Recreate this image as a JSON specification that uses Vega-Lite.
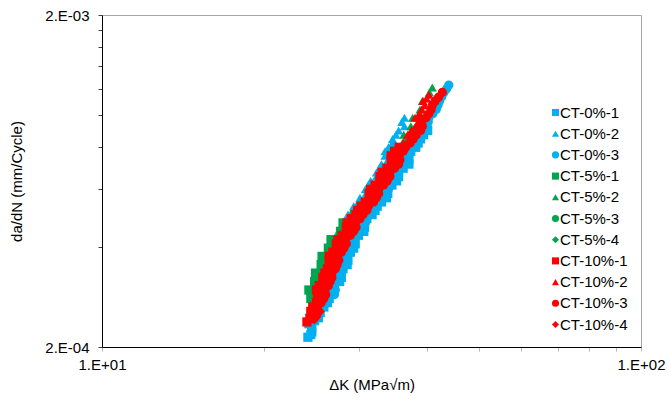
{
"$schema": "https://vega.github.io/schema/vega-lite/v6.json",
"width": 539, "height": 332,
"autosize": {"type": "none"},
"padding": {"left": 102, "top": 15, "right": 27, "bottom": 52},
"background": "white",
"config": {"view": {"stroke": "#a6a6a6", "strokeWidth": 1}, "font": "Liberation Sans"},
"datasets": {"d": [
{"s":"CT-0%-1","k":24.1,"r":2.14e-4},{"s":"CT-0%-1","k":24.5,"r":2.22e-4},{"s":"CT-0%-1","k":24.2,"r":2.35e-4},{"s":"CT-0%-1","k":25.2,"r":2.45e-4},{"s":"CT-0%-1","k":25.8,"r":2.64e-4},{"s":"CT-0%-1","k":26.4,"r":2.80e-4},{"s":"CT-0%-1","k":26.6,"r":2.97e-4},{"s":"CT-0%-1","k":27.6,"r":3.15e-4},{"s":"CT-0%-1","k":27.7,"r":3.34e-4},{"s":"CT-0%-1","k":28.5,"r":3.54e-4},{"s":"CT-0%-1","k":28.3,"r":3.75e-4},{"s":"CT-0%-1","k":29.3,"r":3.97e-4},{"s":"CT-0%-1","k":29.3,"r":4.21e-4},{"s":"CT-0%-1","k":30.6,"r":4.46e-4},{"s":"CT-0%-1","k":30.5,"r":4.73e-4},{"s":"CT-0%-1","k":31.7,"r":5.01e-4},{"s":"CT-0%-1","k":32.4,"r":5.31e-4},{"s":"CT-0%-1","k":33.7,"r":5.63e-4},{"s":"CT-0%-1","k":33.8,"r":5.97e-4},{"s":"CT-0%-1","k":35.2,"r":6.33e-4},{"s":"CT-0%-1","k":35.5,"r":6.71e-4},{"s":"CT-0%-1","k":37.1,"r":7.11e-4},{"s":"CT-0%-1","k":36.8,"r":7.54e-4},{"s":"CT-0%-1","k":38.2,"r":7.99e-4},{"s":"CT-0%-1","k":39.0,"r":8.47e-4},{"s":"CT-0%-1","k":40.2,"r":8.98e-4},
{"s":"CT-0%-1","k":24.4,"r":2.18e-4},{"s":"CT-0%-1","k":24.5,"r":2.28e-4},{"s":"CT-0%-1","k":24.8,"r":2.40e-4},{"s":"CT-0%-1","k":25.4,"r":2.54e-4},{"s":"CT-0%-1","k":26.2,"r":2.72e-4},{"s":"CT-0%-1","k":26.6,"r":2.88e-4},{"s":"CT-0%-1","k":27.0,"r":3.06e-4},{"s":"CT-0%-1","k":27.8,"r":3.24e-4},{"s":"CT-0%-1","k":28.0,"r":3.44e-4},{"s":"CT-0%-1","k":28.6,"r":3.65e-4},{"s":"CT-0%-1","k":28.9,"r":3.86e-4},{"s":"CT-0%-1","k":29.5,"r":4.09e-4},{"s":"CT-0%-1","k":29.9,"r":4.34e-4},{"s":"CT-0%-1","k":30.7,"r":4.59e-4},{"s":"CT-0%-1","k":31.0,"r":4.87e-4},{"s":"CT-0%-1","k":32.1,"r":5.16e-4},{"s":"CT-0%-1","k":33.0,"r":5.47e-4},{"s":"CT-0%-1","k":33.9,"r":5.80e-4},{"s":"CT-0%-1","k":34.5,"r":6.15e-4},{"s":"CT-0%-1","k":35.5,"r":6.52e-4},{"s":"CT-0%-1","k":36.2,"r":6.91e-4},{"s":"CT-0%-1","k":37.1,"r":7.32e-4},{"s":"CT-0%-1","k":37.4,"r":7.77e-4},{"s":"CT-0%-1","k":38.6,"r":8.23e-4},{"s":"CT-0%-1","k":39.5,"r":8.72e-4},
{"s":"CT-0%-2","k":24.2,"r":2.42e-4},{"s":"CT-0%-2","k":24.7,"r":2.56e-4},{"s":"CT-0%-2","k":24.8,"r":2.72e-4},{"s":"CT-0%-2","k":25.4,"r":2.88e-4},{"s":"CT-0%-2","k":24.9,"r":3.06e-4},{"s":"CT-0%-2","k":25.6,"r":3.24e-4},{"s":"CT-0%-2","k":25.5,"r":3.44e-4},{"s":"CT-0%-2","k":26.2,"r":3.65e-4},{"s":"CT-0%-2","k":26.4,"r":3.86e-4},{"s":"CT-0%-2","k":27.2,"r":4.09e-4},{"s":"CT-0%-2","k":27.2,"r":4.34e-4},{"s":"CT-0%-2","k":28.1,"r":4.59e-4},{"s":"CT-0%-2","k":28.4,"r":4.87e-4},{"s":"CT-0%-2","k":29.2,"r":5.16e-4},{"s":"CT-0%-2","k":29.9,"r":5.47e-4},{"s":"CT-0%-2","k":30.9,"r":5.80e-4},{"s":"CT-0%-2","k":31.2,"r":6.15e-4},{"s":"CT-0%-2","k":32.3,"r":6.52e-4},{"s":"CT-0%-2","k":32.7,"r":6.91e-4},{"s":"CT-0%-2","k":33.9,"r":7.32e-4},{"s":"CT-0%-2","k":33.5,"r":7.77e-4},{"s":"CT-0%-2","k":34.6,"r":8.23e-4},{"s":"CT-0%-2","k":35.1,"r":8.72e-4},{"s":"CT-0%-2","k":36.4,"r":9.25e-4},{"s":"CT-0%-2","k":36.4,"r":9.81e-4},
{"s":"CT-0%-2","k":24.4,"r":2.49e-4},{"s":"CT-0%-2","k":24.6,"r":2.64e-4},{"s":"CT-0%-2","k":25.0,"r":2.80e-4},{"s":"CT-0%-2","k":25.1,"r":2.97e-4},{"s":"CT-0%-2","k":25.2,"r":3.15e-4},{"s":"CT-0%-2","k":25.4,"r":3.34e-4},{"s":"CT-0%-2","k":25.8,"r":3.54e-4},{"s":"CT-0%-2","k":26.1,"r":3.75e-4},{"s":"CT-0%-2","k":26.7,"r":3.97e-4},{"s":"CT-0%-2","k":27.0,"r":4.21e-4},{"s":"CT-0%-2","k":27.5,"r":4.46e-4},{"s":"CT-0%-2","k":28.0,"r":4.73e-4},{"s":"CT-0%-2","k":28.6,"r":5.01e-4},{"s":"CT-0%-2","k":29.3,"r":5.31e-4},{"s":"CT-0%-2","k":30.1,"r":5.63e-4},{"s":"CT-0%-2","k":30.8,"r":5.97e-4},{"s":"CT-0%-2","k":31.5,"r":6.33e-4},{"s":"CT-0%-2","k":32.3,"r":6.71e-4},{"s":"CT-0%-2","k":33.0,"r":7.11e-4},{"s":"CT-0%-2","k":33.5,"r":7.54e-4},{"s":"CT-0%-2","k":34.0,"r":7.99e-4},{"s":"CT-0%-2","k":34.6,"r":8.47e-4},{"s":"CT-0%-2","k":35.5,"r":8.98e-4},{"s":"CT-0%-2","k":36.0,"r":9.52e-4},
{"s":"CT-0%-3","k":27.0,"r":2.88e-4},{"s":"CT-0%-3","k":26.8,"r":3.06e-4},{"s":"CT-0%-3","k":27.4,"r":3.24e-4},{"s":"CT-0%-3","k":27.7,"r":3.44e-4},{"s":"CT-0%-3","k":28.3,"r":3.65e-4},{"s":"CT-0%-3","k":28.4,"r":3.86e-4},{"s":"CT-0%-3","k":29.1,"r":4.09e-4},{"s":"CT-0%-3","k":29.4,"r":4.34e-4},{"s":"CT-0%-3","k":30.5,"r":4.59e-4},{"s":"CT-0%-3","k":30.7,"r":4.87e-4},{"s":"CT-0%-3","k":31.8,"r":5.16e-4},{"s":"CT-0%-3","k":32.6,"r":5.47e-4},{"s":"CT-0%-3","k":33.6,"r":5.80e-4},{"s":"CT-0%-3","k":34.0,"r":6.15e-4},{"s":"CT-0%-3","k":35.1,"r":6.52e-4},{"s":"CT-0%-3","k":35.6,"r":6.91e-4},{"s":"CT-0%-3","k":36.9,"r":7.32e-4},{"s":"CT-0%-3","k":37.0,"r":7.77e-4},{"s":"CT-0%-3","k":38.2,"r":8.23e-4},{"s":"CT-0%-3","k":39.0,"r":8.72e-4},{"s":"CT-0%-3","k":40.1,"r":9.25e-4},{"s":"CT-0%-3","k":40.4,"r":9.81e-4},{"s":"CT-0%-3","k":41.7,"r":1.039e-3},{"s":"CT-0%-3","k":42.3,"r":1.102e-3},{"s":"CT-0%-3","k":43.1,"r":1.168e-3},{"s":"CT-0%-3","k":44.0,"r":1.23e-3},
{"s":"CT-0%-3","k":27.1,"r":2.97e-4},{"s":"CT-0%-3","k":27.2,"r":3.15e-4},{"s":"CT-0%-3","k":27.7,"r":3.34e-4},{"s":"CT-0%-3","k":28.1,"r":3.54e-4},{"s":"CT-0%-3","k":28.5,"r":3.75e-4},{"s":"CT-0%-3","k":28.9,"r":3.97e-4},{"s":"CT-0%-3","k":29.4,"r":4.21e-4},{"s":"CT-0%-3","k":30.0,"r":4.46e-4},{"s":"CT-0%-3","k":30.8,"r":4.73e-4},{"s":"CT-0%-3","k":31.4,"r":5.01e-4},{"s":"CT-0%-3","k":32.3,"r":5.31e-4},{"s":"CT-0%-3","k":33.2,"r":5.63e-4},{"s":"CT-0%-3","k":34.0,"r":5.97e-4},{"s":"CT-0%-3","k":34.7,"r":6.33e-4},{"s":"CT-0%-3","k":35.5,"r":6.71e-4},{"s":"CT-0%-3","k":36.3,"r":7.11e-4},{"s":"CT-0%-3","k":37.1,"r":7.54e-4},{"s":"CT-0%-3","k":37.7,"r":7.99e-4},{"s":"CT-0%-3","k":38.7,"r":8.47e-4},{"s":"CT-0%-3","k":39.6,"r":8.98e-4},{"s":"CT-0%-3","k":40.3,"r":9.52e-4},{"s":"CT-0%-3","k":41.1,"r":1.009e-3},{"s":"CT-0%-3","k":42.0,"r":1.07e-3},{"s":"CT-0%-3","k":42.7,"r":1.134e-3},{"s":"CT-0%-3","k":43.6,"r":1.20e-3},
{"s":"CT-5%-1","k":24.4,"r":2.80e-4},{"s":"CT-5%-1","k":24.2,"r":2.97e-4},{"s":"CT-5%-1","k":24.8,"r":3.15e-4},{"s":"CT-5%-1","k":24.9,"r":3.34e-4},{"s":"CT-5%-1","k":25.5,"r":3.54e-4},{"s":"CT-5%-1","k":25.6,"r":3.75e-4},{"s":"CT-5%-1","k":26.3,"r":3.97e-4},{"s":"CT-5%-1","k":26.6,"r":4.21e-4},{"s":"CT-5%-1","k":27.7,"r":4.46e-4},{"s":"CT-5%-1","k":28.0,"r":4.73e-4},{"s":"CT-5%-1","k":29.4,"r":5.01e-4},{"s":"CT-5%-1","k":30.2,"r":5.31e-4},
{"s":"CT-5%-2","k":26.8,"r":3.86e-4},{"s":"CT-5%-2","k":27.4,"r":4.09e-4},{"s":"CT-5%-2","k":27.5,"r":4.34e-4},{"s":"CT-5%-2","k":28.4,"r":4.59e-4},{"s":"CT-5%-2","k":28.9,"r":4.87e-4},{"s":"CT-5%-2","k":30.0,"r":5.16e-4},{"s":"CT-5%-2","k":30.3,"r":5.47e-4},{"s":"CT-5%-2","k":31.4,"r":5.80e-4},{"s":"CT-5%-2","k":32.1,"r":6.15e-4},{"s":"CT-5%-2","k":33.1,"r":6.52e-4},{"s":"CT-5%-2","k":33.3,"r":6.91e-4},{"s":"CT-5%-2","k":34.4,"r":7.32e-4},{"s":"CT-5%-2","k":34.8,"r":7.77e-4},{"s":"CT-5%-2","k":36.1,"r":8.23e-4},{"s":"CT-5%-2","k":36.3,"r":8.72e-4},{"s":"CT-5%-2","k":37.4,"r":9.25e-4},{"s":"CT-5%-2","k":37.7,"r":9.81e-4},{"s":"CT-5%-2","k":38.9,"r":1.039e-3},{"s":"CT-5%-2","k":39.3,"r":1.102e-3},{"s":"CT-5%-2","k":40.5,"r":1.168e-3},{"s":"CT-5%-2","k":41.0,"r":1.21e-3},
{"s":"CT-5%-3","k":24.9,"r":2.49e-4},{"s":"CT-5%-3","k":25.0,"r":2.64e-4},{"s":"CT-5%-3","k":25.7,"r":2.80e-4},{"s":"CT-5%-3","k":25.5,"r":2.97e-4},{"s":"CT-5%-3","k":26.1,"r":3.15e-4},{"s":"CT-5%-3","k":26.3,"r":3.34e-4},{"s":"CT-5%-3","k":26.9,"r":3.54e-4},{"s":"CT-5%-3","k":26.9,"r":3.75e-4},{"s":"CT-5%-3","k":27.7,"r":3.97e-4},{"s":"CT-5%-3","k":27.8,"r":4.21e-4},{"s":"CT-5%-3","k":28.8,"r":4.46e-4},{"s":"CT-5%-3","k":29.0,"r":4.73e-4},{"s":"CT-5%-3","k":30.0,"r":5.01e-4},{"s":"CT-5%-3","k":30.7,"r":5.31e-4},{"s":"CT-5%-3","k":31.8,"r":5.63e-4},{"s":"CT-5%-3","k":32.1,"r":5.97e-4},{"s":"CT-5%-3","k":33.3,"r":6.33e-4},{"s":"CT-5%-3","k":33.7,"r":6.71e-4},{"s":"CT-5%-3","k":35.0,"r":7.11e-4},{"s":"CT-5%-3","k":35.0,"r":7.54e-4},{"s":"CT-5%-3","k":36.1,"r":7.99e-4},{"s":"CT-5%-3","k":36.9,"r":8.47e-4},{"s":"CT-5%-3","k":38.0,"r":8.98e-4},
{"s":"CT-5%-4","k":24.9,"r":2.56e-4},{"s":"CT-5%-4","k":25.5,"r":2.72e-4},{"s":"CT-5%-4","k":25.7,"r":2.88e-4},{"s":"CT-5%-4","k":26.2,"r":3.06e-4},{"s":"CT-5%-4","k":26.1,"r":3.24e-4},{"s":"CT-5%-4","k":26.7,"r":3.44e-4},{"s":"CT-5%-4","k":26.9,"r":3.65e-4},{"s":"CT-5%-4","k":27.7,"r":3.86e-4},{"s":"CT-5%-4","k":27.7,"r":4.09e-4},{"s":"CT-5%-4","k":28.5,"r":4.34e-4},{"s":"CT-5%-4","k":29.1,"r":4.59e-4},{"s":"CT-5%-4","k":30.0,"r":4.87e-4},{"s":"CT-5%-4","k":30.3,"r":5.16e-4},{"s":"CT-5%-4","k":31.4,"r":5.47e-4},{"s":"CT-5%-4","k":32.0,"r":5.80e-4},{"s":"CT-5%-4","k":33.2,"r":6.15e-4},{"s":"CT-5%-4","k":33.4,"r":6.52e-4},{"s":"CT-5%-4","k":34.5,"r":6.91e-4},{"s":"CT-5%-4","k":35.2,"r":7.32e-4},{"s":"CT-5%-4","k":36.1,"r":7.77e-4},
{"s":"CT-10%-1","k":24.0,"r":2.38e-4},{"s":"CT-10%-1","k":24.6,"r":2.49e-4},{"s":"CT-10%-1","k":24.6,"r":2.64e-4},{"s":"CT-10%-1","k":25.4,"r":2.80e-4},{"s":"CT-10%-1","k":25.0,"r":2.97e-4},{"s":"CT-10%-1","k":25.7,"r":3.15e-4},{"s":"CT-10%-1","k":25.9,"r":3.34e-4},{"s":"CT-10%-1","k":26.6,"r":3.54e-4},{"s":"CT-10%-1","k":26.4,"r":3.75e-4},{"s":"CT-10%-1","k":27.3,"r":3.97e-4},{"s":"CT-10%-1","k":27.4,"r":4.21e-4},{"s":"CT-10%-1","k":28.6,"r":4.46e-4},{"s":"CT-10%-1","k":28.5,"r":4.73e-4},{"s":"CT-10%-1","k":29.6,"r":5.01e-4},{"s":"CT-10%-1","k":30.3,"r":5.31e-4},{"s":"CT-10%-1","k":31.4,"r":5.63e-4},{"s":"CT-10%-1","k":31.5,"r":5.97e-4},{"s":"CT-10%-1","k":32.8,"r":6.33e-4},{"s":"CT-10%-1","k":33.1,"r":6.71e-4},{"s":"CT-10%-1","k":34.6,"r":7.11e-4},{"s":"CT-10%-1","k":34.4,"r":7.54e-4},{"s":"CT-10%-1","k":35.6,"r":7.99e-4},
{"s":"CT-10%-1","k":24.3,"r":2.44e-4},{"s":"CT-10%-1","k":24.4,"r":2.56e-4},{"s":"CT-10%-1","k":25.0,"r":2.72e-4},{"s":"CT-10%-1","k":25.1,"r":2.88e-4},{"s":"CT-10%-1","k":25.3,"r":3.06e-4},{"s":"CT-10%-1","k":25.7,"r":3.24e-4},{"s":"CT-10%-1","k":26.2,"r":3.44e-4},{"s":"CT-10%-1","k":26.4,"r":3.65e-4},{"s":"CT-10%-1","k":26.8,"r":3.86e-4},{"s":"CT-10%-1","k":27.2,"r":4.09e-4},{"s":"CT-10%-1","k":27.9,"r":4.34e-4},{"s":"CT-10%-1","k":28.4,"r":4.59e-4},{"s":"CT-10%-1","k":29.0,"r":4.87e-4},{"s":"CT-10%-1","k":29.8,"r":5.16e-4},{"s":"CT-10%-1","k":30.8,"r":5.47e-4},{"s":"CT-10%-1","k":31.3,"r":5.80e-4},{"s":"CT-10%-1","k":32.1,"r":6.15e-4},{"s":"CT-10%-1","k":32.8,"r":6.52e-4},{"s":"CT-10%-1","k":33.8,"r":6.91e-4},{"s":"CT-10%-1","k":34.4,"r":7.32e-4},{"s":"CT-10%-1","k":34.9,"r":7.77e-4},
{"s":"CT-10%-2","k":24.2,"r":2.42e-4},{"s":"CT-10%-2","k":24.9,"r":2.56e-4},{"s":"CT-10%-2","k":24.9,"r":2.72e-4},{"s":"CT-10%-2","k":25.7,"r":2.88e-4},{"s":"CT-10%-2","k":25.3,"r":3.06e-4},{"s":"CT-10%-2","k":26.0,"r":3.24e-4},{"s":"CT-10%-2","k":26.2,"r":3.44e-4},{"s":"CT-10%-2","k":26.9,"r":3.65e-4},{"s":"CT-10%-2","k":26.8,"r":3.86e-4},{"s":"CT-10%-2","k":27.6,"r":4.09e-4},{"s":"CT-10%-2","k":27.8,"r":4.34e-4},{"s":"CT-10%-2","k":29.1,"r":4.59e-4},{"s":"CT-10%-2","k":28.9,"r":4.87e-4},{"s":"CT-10%-2","k":30.2,"r":5.16e-4},{"s":"CT-10%-2","k":30.8,"r":5.47e-4},{"s":"CT-10%-2","k":32.0,"r":5.80e-4},{"s":"CT-10%-2","k":32.1,"r":6.15e-4},{"s":"CT-10%-2","k":33.3,"r":6.52e-4},{"s":"CT-10%-2","k":33.7,"r":6.91e-4},{"s":"CT-10%-2","k":35.2,"r":7.32e-4},{"s":"CT-10%-2","k":34.9,"r":7.77e-4},{"s":"CT-10%-2","k":36.2,"r":8.23e-4},{"s":"CT-10%-2","k":36.9,"r":8.72e-4},{"s":"CT-10%-2","k":38.2,"r":9.25e-4},{"s":"CT-10%-2","k":38.1,"r":9.81e-4},{"s":"CT-10%-2","k":39.2,"r":1.039e-3},{"s":"CT-10%-2","k":39.4,"r":1.102e-3},{"s":"CT-10%-2","k":40.4,"r":1.15e-3},
{"s":"CT-10%-2","k":37.5,"r":9.0e-4},{"s":"CT-10%-2","k":38.6,"r":9.5e-4},{"s":"CT-10%-2","k":38.8,"r":1.01e-3},{"s":"CT-10%-2","k":39.7,"r":1.07e-3},{"s":"CT-10%-2","k":40.0,"r":1.12e-3},
{"s":"CT-10%-3","k":25.0,"r":2.49e-4},{"s":"CT-10%-3","k":25.1,"r":2.64e-4},{"s":"CT-10%-3","k":25.8,"r":2.80e-4},{"s":"CT-10%-3","k":25.9,"r":2.97e-4},{"s":"CT-10%-3","k":26.5,"r":3.15e-4},{"s":"CT-10%-3","k":26.7,"r":3.34e-4},{"s":"CT-10%-3","k":27.3,"r":3.54e-4},{"s":"CT-10%-3","k":27.3,"r":3.75e-4},{"s":"CT-10%-3","k":28.1,"r":3.97e-4},{"s":"CT-10%-3","k":28.3,"r":4.21e-4},{"s":"CT-10%-3","k":29.3,"r":4.46e-4},{"s":"CT-10%-3","k":29.5,"r":4.73e-4},{"s":"CT-10%-3","k":30.5,"r":5.01e-4},{"s":"CT-10%-3","k":31.2,"r":5.31e-4},{"s":"CT-10%-3","k":32.3,"r":5.63e-4},{"s":"CT-10%-3","k":32.6,"r":5.97e-4},{"s":"CT-10%-3","k":33.8,"r":6.33e-4},{"s":"CT-10%-3","k":34.2,"r":6.71e-4},{"s":"CT-10%-3","k":35.5,"r":7.11e-4},{"s":"CT-10%-3","k":35.6,"r":7.54e-4},{"s":"CT-10%-3","k":36.6,"r":7.99e-4},{"s":"CT-10%-3","k":37.8,"r":8.47e-4},{"s":"CT-10%-3","k":39.0,"r":8.98e-4},{"s":"CT-10%-3","k":39.2,"r":9.52e-4},{"s":"CT-10%-3","k":40.4,"r":1.009e-3},{"s":"CT-10%-3","k":41.0,"r":1.07e-3},{"s":"CT-10%-3","k":42.1,"r":1.13e-3},{"s":"CT-10%-3","k":42.8,"r":1.17e-3},
{"s":"CT-10%-3","k":25.2,"r":2.56e-4},{"s":"CT-10%-3","k":25.5,"r":2.72e-4},{"s":"CT-10%-3","k":26.0,"r":2.88e-4},{"s":"CT-10%-3","k":26.3,"r":3.06e-4},{"s":"CT-10%-3","k":26.7,"r":3.24e-4},{"s":"CT-10%-3","k":27.1,"r":3.44e-4},{"s":"CT-10%-3","k":27.5,"r":3.65e-4},{"s":"CT-10%-3","k":27.8,"r":3.86e-4},{"s":"CT-10%-3","k":28.4,"r":4.09e-4},{"s":"CT-10%-3","k":28.9,"r":4.34e-4},{"s":"CT-10%-3","k":29.6,"r":4.59e-4},{"s":"CT-10%-3","k":30.1,"r":4.87e-4},{"s":"CT-10%-3","k":31.0,"r":5.16e-4},{"s":"CT-10%-3","k":31.9,"r":5.47e-4},{"s":"CT-10%-3","k":32.6,"r":5.80e-4},{"s":"CT-10%-3","k":33.3,"r":6.15e-4},{"s":"CT-10%-3","k":34.2,"r":6.52e-4},{"s":"CT-10%-3","k":34.9,"r":6.91e-4},{"s":"CT-10%-3","k":35.7,"r":7.32e-4},{"s":"CT-10%-3","k":36.2,"r":7.77e-4},{"s":"CT-10%-3","k":37.3,"r":8.23e-4},{"s":"CT-10%-3","k":38.3,"r":8.72e-4},{"s":"CT-10%-3","k":39.3,"r":9.25e-4},{"s":"CT-10%-3","k":39.9,"r":9.81e-4},{"s":"CT-10%-3","k":40.8,"r":1.039e-3},{"s":"CT-10%-3","k":41.5,"r":1.10e-3},
{"s":"CT-10%-4","k":24.8,"r":2.42e-4},{"s":"CT-10%-4","k":25.4,"r":2.56e-4},{"s":"CT-10%-4","k":25.2,"r":2.72e-4},{"s":"CT-10%-4","k":25.8,"r":2.88e-4},{"s":"CT-10%-4","k":26.0,"r":3.06e-4},{"s":"CT-10%-4","k":26.5,"r":3.24e-4},{"s":"CT-10%-4","k":26.4,"r":3.44e-4},{"s":"CT-10%-4","k":27.1,"r":3.65e-4},{"s":"CT-10%-4","k":27.3,"r":3.86e-4},{"s":"CT-10%-4","k":28.2,"r":4.09e-4},{"s":"CT-10%-4","k":28.2,"r":4.34e-4},{"s":"CT-10%-4","k":29.1,"r":4.59e-4},{"s":"CT-10%-4","k":29.8,"r":4.87e-4},{"s":"CT-10%-4","k":30.7,"r":5.16e-4},{"s":"CT-10%-4","k":31.1,"r":5.47e-4},{"s":"CT-10%-4","k":32.2,"r":5.80e-4},{"s":"CT-10%-4","k":32.8,"r":6.15e-4},{"s":"CT-10%-4","k":34.0,"r":6.52e-4},{"s":"CT-10%-4","k":34.1,"r":6.91e-4},{"s":"CT-10%-4","k":35.2,"r":7.32e-4},{"s":"CT-10%-4","k":35.9,"r":7.77e-4},{"s":"CT-10%-4","k":36.9,"r":8.23e-4},{"s":"CT-10%-4","k":37.3,"r":8.72e-4},{"s":"CT-10%-4","k":38.5,"r":9.25e-4},{"s":"CT-10%-4","k":38.9,"r":9.81e-4}
]},
"data": {"name": "d"},
"mark": {"type": "point", "filled": true, "size": 85, "opacity": 1},
"encoding": {
  "x": {"field": "k", "type": "quantitative",
    "scale": {"type": "log", "domain": [10, 100], "nice": false},
    "axis": {"title": "ΔK (MPa√m)", "values": [10, 20, 30, 40, 50, 60, 70, 80, 90, 100],
      "labelExpr": "datum.value < 11 ? '1.E+01' : datum.value > 99 ? '1.E+02' : ''",
      "grid": false, "domainColor": "#000000", "domainWidth": 1, "tickColor": "#b4b4b4", "tickSize": 4,
      "labelFontSize": 15, "labelColor": "#000000", "labelPadding": 6, "labelFlush": false, "labelOverlap": false,
      "titleFontSize": 15, "titleFontWeight": "normal", "titleColor": "#000000", "titlePadding": 5}},
  "y": {"field": "r", "type": "quantitative",
    "scale": {"type": "log", "domain": [0.0002, 0.002], "nice": false},
    "axis": {"title": "da/dN (mm/Cycle)", "values": [0.0002, 0.0004, 0.0006, 0.0008, 0.001, 0.0012, 0.0014, 0.0016, 0.0018, 0.002],
      "labelExpr": "datum.value < 0.00021 ? '2.E-04' : datum.value > 0.0019 ? '2.E-03' : ''",
      "grid": false, "domainColor": "#000000", "domainWidth": 1, "tickColor": "#404040", "tickSize": 4,
      "labelFontSize": 15, "labelColor": "#000000", "labelPadding": 9, "labelFlush": false, "labelOverlap": false,
      "titleFontSize": 15, "titleFontWeight": "normal", "titleColor": "#000000", "titlePadding": 20}},
  "color": {"field": "s", "type": "nominal",
    "scale": {"domain": ["CT-0%-1","CT-0%-2","CT-0%-3","CT-5%-1","CT-5%-2","CT-5%-3","CT-5%-4","CT-10%-1","CT-10%-2","CT-10%-3","CT-10%-4"],
      "range": ["#00B0F0","#00B0F0","#00B0F0","#00A550","#00A550","#00A550","#00A550","#FF0000","#FF0000","#FF0000","#FF0000"]},
    "legend": {"title": null, "orient": "none", "legendX": 446, "legendY": 90, "labelFontSize": 15, "labelColor": "#000000",
      "symbolSize": 50, "rowPadding": 5.2, "labelOffset": -3, "padding": 0, "symbolStrokeWidth": 0}},
  "shape": {"field": "s", "type": "nominal",
    "scale": {"domain": ["CT-0%-1","CT-0%-2","CT-0%-3","CT-5%-1","CT-5%-2","CT-5%-3","CT-5%-4","CT-10%-1","CT-10%-2","CT-10%-3","CT-10%-4"],
      "range": ["square","triangle-up","circle","square","triangle-up","circle","diamond","square","triangle-up","circle","diamond"]}}
}
}
